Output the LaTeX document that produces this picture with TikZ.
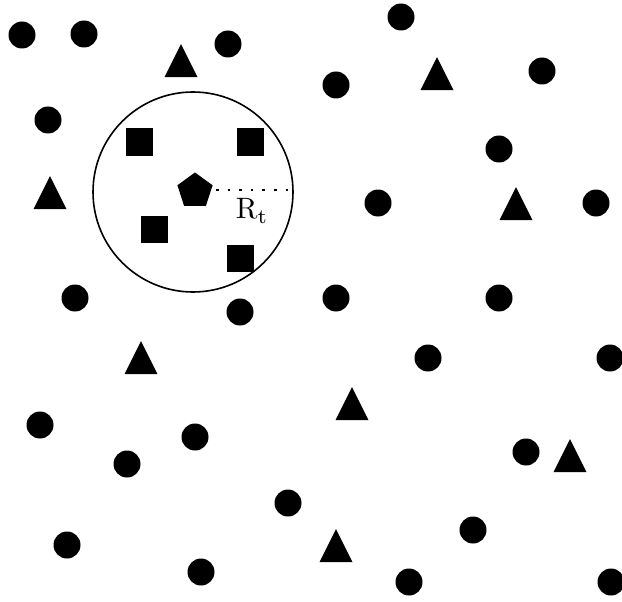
\documentclass[tikz,border=0pt]{standalone}
\usetikzlibrary{shapes.geometric}
\tikzset{
  dot/.style={circle, fill=black, inner sep=0pt, minimum size=27pt},
  tri/.style={isosceles triangle, isosceles triangle stretches, shape border rotate=90,
              fill=black, inner sep=0pt, minimum width=33pt, minimum height=33pt},
  sq/.style={rectangle, fill=black, inner sep=0pt, minimum size=27pt},
  pent/.style={regular polygon, regular polygon sides=5, fill=black, inner sep=0pt, minimum size=37pt},
  rangecirc/.style={circle, draw=black, line width=1.6pt, inner sep=0pt, minimum size=200pt},
  radius line/.style={line width=2.6pt, dash pattern=on 2.6pt off 9pt},
}

\begin{document}
\begin{tikzpicture}[x=1pt, y=-1pt]
  \useasboundingbox (0,0) rectangle (622,602);

  %% ── sensing range ──
  \node[rangecirc] (range) at (193,192) {};

  %% ── scattered nodes ──
  \foreach \x/\y [count=\i] in {22/35, 84/34, 228/44, 401/17, 336/85, 542/71, 48/120, 499/149,
      378/203, 596/203, 75/298, 240/312, 336/298, 499/298, 428/358, 610/358, 40/425, 195/437,
      127/464, 526/452, 288/503, 473/530, 67/545, 201/572, 409/582, 611/582}
    \node[dot] (c\i) at (\x,\y) {};

  \foreach \x/\y [count=\i] in {181/67, 437/80, 50/199, 516/210, 141/364, 352/410, 570/462, 336/552}
    \node[tri] (t\i) at (\x,\y) {};

  %% ── neighbours in range ──
  \node[sq] (s1) at (139,142) {};
  \node[sq] (s2) at (250,142) {};
  \node[sq] (s3) at (154,229) {};
  \node[sq] (s4) at (240,258) {};

  %% ── target ──
  \node[pent] (target) at (195,191) {};
  \coordinate (rim) at (290,190);
  \draw[radius line] (target.east |- rim) ++(5,0) -- (rim);
  \node[inner sep=0pt] (rt) at (252,211) {\scalebox{2.95}{$\mathrm{R}_\mathrm{t}$}};
\end{tikzpicture}
\end{document}
